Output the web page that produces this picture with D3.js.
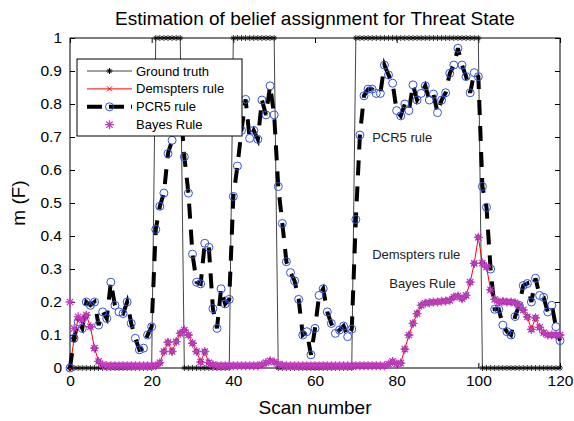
<!DOCTYPE html>
<html>
<head>
<meta charset="utf-8">
<script src="https://cdn.jsdelivr.net/npm/d3@7"></script>
<style>
  body { margin: 0; background: #fff; }
  svg { display: block; font-family: "Liberation Sans", Arial, sans-serif; }
</style>
</head>
<body>
<div id="chart"></div>
<script>
// scan numbers 0..120
const scans = d3.range(0, 121);

const groundTruth = [
  0, 0, 0, 0, 0, 0, 0, 0, 0, 0,
  0, 0, 0, 0, 0, 0, 0, 0, 0, 0,
  0, 1, 1, 1, 1, 1, 1, 1, 0, 0,
  0, 0, 0, 0, 0, 0, 0, 0, 0, 0,
  1, 1, 1, 1, 1, 1, 1, 1, 1, 1,
  1, 0, 0, 0, 0, 0, 0, 0, 0, 0,
  0, 0, 0, 0, 0, 0, 0, 0, 0, 0,
  1, 1, 1, 1, 1, 1, 1, 1, 1, 1,
  1, 1, 1, 1, 1, 1, 1, 1, 1, 1,
  1, 1, 1, 1, 1, 1, 1, 1, 1, 1,
  1, 0, 0, 0, 0, 0, 0, 0, 0, 0,
  0, 0, 0, 0, 0, 0, 0, 0, 0, 0,
  0
];

const dempster = [
  0, 0.09, 0.15, 0.145, 0.16, 0.125, 0.06, 0.02, 0.008, 0.006,
  0.006, 0.006, 0.006, 0.006, 0.006, 0.006, 0.006, 0.006, 0.006, 0.006,
  0.006, 0.006, 0.015, 0.05, 0.078, 0.05, 0.08, 0.105, 0.115, 0.1,
  0.075, 0.05, 0.018, 0.05, 0.016, 0.01, 0.006, 0.006, 0.006, 0.006,
  0.006, 0.006, 0.006, 0.006, 0.006, 0.006, 0.006, 0.01, 0.016, 0.022,
  0.018, 0.012, 0.008, 0.006, 0.006, 0.006, 0.006, 0.006, 0.006, 0.006,
  0.006, 0.006, 0.006, 0.006, 0.006, 0.006, 0.006, 0.006, 0.006, 0.006,
  0.006, 0.006, 0.006, 0.006, 0.006, 0.006, 0.006, 0.006, 0.012, 0.02,
  0.012, 0.015, 0.057, 0.1, 0.135, 0.165, 0.19, 0.196, 0.198, 0.2,
  0.2, 0.202, 0.203, 0.205, 0.215, 0.218, 0.21, 0.22, 0.26, 0.317,
  0.396, 0.318, 0.306, 0.237, 0.208, 0.2, 0.202, 0.2, 0.2, 0.198,
  0.19, 0.176, 0.155, 0.117, 0.152, 0.123, 0.107, 0.1, 0.1, 0.1,
  0.1
];

const pcr5 = [
  0, 0.09, 0.14, 0.12, 0.2, 0.19, 0.2, 0.13, 0.17, 0.15,
  0.26, 0.19, 0.17, 0.165, 0.2, 0.135, 0.09, 0.055, 0.06, 0.1,
  0.125, 0.42, 0.49, 0.53, 0.65, 0.69, 0.76, 0.8, 0.64, 0.53,
  0.345, 0.26, 0.255, 0.378, 0.366, 0.18, 0.12, 0.24, 0.194, 0.208,
  0.52, 0.612, 0.72, 0.814, 0.696, 0.72, 0.693, 0.812, 0.767, 0.855,
  0.767, 0.55, 0.438, 0.322, 0.289, 0.264, 0.208, 0.1, 0.11, 0.04,
  0.12, 0.22, 0.24, 0.17, 0.135, 0.105, 0.115, 0.127, 0.095, 0.118,
  0.45, 0.706, 0.825, 0.845, 0.845, 0.832, 0.832, 0.918, 0.888, 0.863,
  0.78, 0.764, 0.8, 0.78, 0.858, 0.812, 0.832, 0.855, 0.812, 0.83,
  0.774, 0.812, 0.834, 0.893, 0.918, 0.969, 0.918, 0.883, 0.834, 0.895,
  0.883, 0.55, 0.487, 0.3, 0.178, 0.178, 0.13, 0.11, 0.1, 0.156,
  0.19, 0.25, 0.256, 0.2, 0.272, 0.22, 0.214, 0.17, 0.19, 0.125,
  0.083
];

const bayes = [
  0.2, 0.12, 0.155, 0.145, 0.16, 0.125, 0.06, 0.02, 0.01, 0.007,
  0.007, 0.007, 0.007, 0.007, 0.007, 0.007, 0.007, 0.007, 0.007, 0.007,
  0.007, 0.007, 0.016, 0.05, 0.078, 0.05, 0.08, 0.105, 0.115, 0.1,
  0.075, 0.05, 0.018, 0.05, 0.016, 0.01, 0.007, 0.007, 0.007, 0.007,
  0.007, 0.007, 0.007, 0.007, 0.007, 0.007, 0.007, 0.01, 0.016, 0.022,
  0.018, 0.012, 0.008, 0.007, 0.007, 0.007, 0.007, 0.007, 0.007, 0.007,
  0.007, 0.007, 0.007, 0.007, 0.007, 0.007, 0.007, 0.007, 0.007, 0.007,
  0.007, 0.007, 0.007, 0.007, 0.007, 0.007, 0.007, 0.007, 0.012, 0.02,
  0.012, 0.015, 0.057, 0.1, 0.135, 0.165, 0.19, 0.196, 0.198, 0.2,
  0.2, 0.202, 0.203, 0.205, 0.215, 0.218, 0.21, 0.22, 0.26, 0.317,
  0.396, 0.318, 0.306, 0.237, 0.208, 0.2, 0.202, 0.2, 0.2, 0.198,
  0.19, 0.176, 0.155, 0.117, 0.152, 0.123, 0.107, 0.1, 0.1, 0.1,
  0.1
];

const xTicks = [0, 20, 40, 60, 80, 100, 120];
const yTicks = [0, 0.1, 0.2, 0.3, 0.4, 0.5, 0.6, 0.7, 0.8, 0.9, 1];
const yTickLabels = ['0', '0.1', '0.2', '0.3', '0.4', '0.5', '0.6', '0.7', '0.8', '0.9', '1'];
const legendLabels = ['Ground truth', 'Demspters rule', 'PCR5 rule', 'Bayes Rule'];
const notes = [
  { text: 'PCR5 rule', scan: 74, m: 0.7 },
  { text: 'Demspters rule', scan: 74, m: 0.345 },
  { text: 'Bayes Rule', scan: 78.2, m: 0.255 }
];
const titleText = 'Estimation of belief assignment for Threat State';

function asterisk(r) {
  const d = r * 0.7;
  return `M${-r},0H${r}M0,${-r}V${r}M${-d},${-d}L${d},${d}M${-d},${d}L${d},${-d}`;
}
function cross(r) {
  return `M${-r},${-r}L${r},${r}M${-r},${r}L${r},${-r}`;
}
function diamond(r) {
  return `M0,${-r}L${r},0L0,${r}L${-r},0Z`;
}

function renderChart() {
  const width = 574;
  const height = 421;
  const margin = { top: 38, right: 14, bottom: 53, left: 70 };

  const svg = d3.select('#chart')
    .append('svg')
    .attr('width', width)
    .attr('height', height);

  const xScale = d3.scaleLinear()
    .domain([0, 120])
    .range([margin.left, width - margin.right]);

  const yScale = d3.scaleLinear()
    .domain([0, 1])
    .range([height - margin.bottom, margin.top]);

  const line = values => d3.line()
    .x((d, i) => xScale(scans[i]))
    .y(d => yScale(d))(values);

  // axes, MATLAB style: inward ticks on all four sides
  const tickLen = 5;
  svg.append('g')
    .attr('transform', `translate(0, ${yScale(0)})`)
    .call(d3.axisBottom(xScale).tickValues(xTicks).tickSizeInner(-tickLen).tickSizeOuter(0).tickPadding(7))
    .call(g => g.selectAll('text').attr('font-size', 15.5).attr('fill', '#000'));
  svg.append('g')
    .attr('transform', `translate(0, ${yScale(1)})`)
    .call(d3.axisTop(xScale).tickValues(xTicks).tickSizeInner(-tickLen).tickSizeOuter(0).tickFormat(''));
  svg.append('g')
    .attr('transform', `translate(${xScale(0)}, 0)`)
    .call(d3.axisLeft(yScale).tickValues(yTicks).tickSizeInner(-tickLen).tickSizeOuter(0).tickPadding(8)
      .tickFormat((d, i) => yTickLabels[i]))
    .call(g => g.selectAll('text').attr('font-size', 15.5).attr('fill', '#000'));
  svg.append('g')
    .attr('transform', `translate(${xScale(120)}, 0)`)
    .call(d3.axisRight(yScale).tickValues(yTicks).tickSizeInner(-tickLen).tickSizeOuter(0).tickFormat(''));
  svg.selectAll('.domain').remove();
  svg.selectAll('.tick line').attr('stroke', '#000');

  svg.append('rect')
    .attr('x', xScale(0))
    .attr('y', yScale(1))
    .attr('width', xScale(120) - xScale(0))
    .attr('height', yScale(0) - yScale(1))
    .attr('fill', 'none')
    .attr('stroke', '#000')
    .attr('stroke-width', 1);

  // ground truth
  svg.append('path')
    .attr('d', line(groundTruth))
    .attr('fill', 'none')
    .attr('stroke', '#444')
    .attr('stroke-width', 1);
  svg.append('g').selectAll('path')
    .data(groundTruth)
    .join('path')
    .attr('transform', (d, i) => `translate(${xScale(scans[i])}, ${yScale(d)})`)
    .attr('d', asterisk(3))
    .attr('stroke', '#000')
    .attr('stroke-width', 0.8);

  // Dempster rule
  svg.append('path')
    .attr('d', line(dempster))
    .attr('fill', 'none')
    .attr('stroke', '#f00')
    .attr('stroke-width', 1);
  svg.append('g').selectAll('path')
    .data(dempster)
    .join('path')
    .attr('transform', (d, i) => `translate(${xScale(scans[i])}, ${yScale(d)})`)
    .attr('d', diamond(3.5))
    .attr('fill', '#2a1030');
  svg.append('g').selectAll('path')
    .data(dempster)
    .join('path')
    .attr('transform', (d, i) => `translate(${xScale(scans[i])}, ${yScale(d)})`)
    .attr('d', cross(2.5))
    .attr('stroke', '#f00')
    .attr('stroke-width', 0.8);

  // PCR5 rule
  svg.append('path')
    .attr('d', line(pcr5))
    .attr('fill', 'none')
    .attr('stroke', '#000')
    .attr('stroke-width', 4)
    .attr('stroke-dasharray', '15,11');
  svg.append('g').selectAll('circle')
    .data(pcr5)
    .join('circle')
    .attr('cx', (d, i) => xScale(scans[i]))
    .attr('cy', d => yScale(d))
    .attr('r', 4)
    .attr('fill', 'none')
    .attr('stroke', '#3355d6')
    .attr('stroke-width', 1);

  // Bayes rule
  svg.append('g').selectAll('path')
    .data(bayes)
    .join('path')
    .attr('transform', (d, i) => `translate(${xScale(scans[i])}, ${yScale(d)})`)
    .attr('d', asterisk(4.5))
    .attr('stroke', '#c23cc2')
    .attr('stroke-width', 1.3);

  // annotations
  svg.append('g').selectAll('text')
    .data(notes)
    .join('text')
    .attr('x', d => xScale(d.scan))
    .attr('y', d => yScale(d.m))
    .attr('dy', '0.35em')
    .attr('font-size', 13)
    .attr('fill', '#222')
    .text(d => d.text);

  // legend
  const legend = svg.append('g').attr('transform', 'translate(77, 59)');
  legend.append('rect')
    .attr('width', 165)
    .attr('height', 77)
    .attr('fill', '#fff')
    .attr('stroke', '#000')
    .attr('stroke-width', 1);
  const rows = legend.selectAll('g')
    .data(legendLabels)
    .join('g')
    .attr('transform', (d, i) => `translate(0, ${12 + i * 17.9})`);
  rows.append('text')
    .attr('x', 59)
    .attr('dy', '0.35em')
    .attr('font-size', 13)
    .attr('fill', '#000')
    .text(d => d);

  const r0 = rows.filter((d, i) => i === 0);
  r0.append('line').attr('x1', 10).attr('x2', 55).attr('stroke', '#444').attr('stroke-width', 1);
  r0.append('path').attr('transform', 'translate(32.5, 0)').attr('d', asterisk(3)).attr('stroke', '#000');
  const r1 = rows.filter((d, i) => i === 1);
  r1.append('line').attr('x1', 10).attr('x2', 55).attr('stroke', '#f00').attr('stroke-width', 1);
  r1.append('path').attr('transform', 'translate(32.5, 0)').attr('d', cross(2.5)).attr('stroke', '#f00');
  const r2 = rows.filter((d, i) => i === 2);
  r2.append('line').attr('x1', 10).attr('x2', 55).attr('stroke', '#000').attr('stroke-width', 4)
    .attr('stroke-dasharray', '15,7');
  r2.append('circle').attr('cx', 32.5).attr('r', 4).attr('fill', 'none').attr('stroke', '#3355d6');
  const r3 = rows.filter((d, i) => i === 3);
  r3.append('path').attr('transform', 'translate(32.5, 0)').attr('d', asterisk(4.5))
    .attr('stroke', '#c23cc2').attr('stroke-width', 1.3);

  // title and axis labels
  svg.append('text')
    .attr('x', (xScale(0) + xScale(120)) / 2)
    .attr('y', 25)
    .attr('text-anchor', 'middle')
    .attr('font-size', 19)
    .text(titleText);
  svg.append('text')
    .attr('x', (xScale(0) + xScale(120)) / 2)
    .attr('y', 414)
    .attr('text-anchor', 'middle')
    .attr('font-size', 19)
    .text('Scan number');
  svg.append('text')
    .attr('transform', `translate(25, ${(yScale(0) + yScale(1)) / 2}) rotate(-90)`)
    .attr('text-anchor', 'middle')
    .attr('font-size', 19)
    .text('m (F)');
}

renderChart();
</script>
</body>
</html>
